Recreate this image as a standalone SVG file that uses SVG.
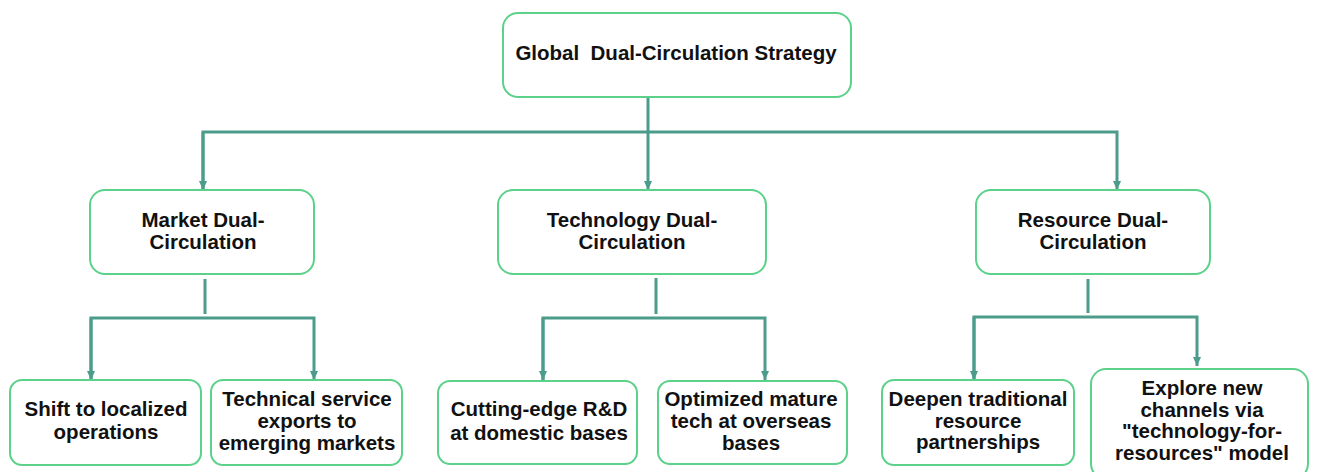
<svg xmlns="http://www.w3.org/2000/svg" width="1317" height="472" viewBox="0 0 1317 472">
<style>
.box{fill:#fff;stroke:#5cd18a;stroke-width:2}
.t{font-family:"Liberation Sans",Arial,sans-serif;font-weight:bold;font-size:20.5px;fill:#111;text-anchor:middle}
.c{fill:none;stroke:#4c9c8c;stroke-width:3}
</style>
<defs>
<marker id="ah" markerUnits="userSpaceOnUse" markerWidth="10" markerHeight="10" refX="9" refY="5" orient="auto">
<path d="M0,1 L9,5 L0,9 z" fill="#4c9c8c"/>
</marker>
</defs>
<rect width="1317" height="472" fill="#fff"/>
<g id="connectors">
<line class="c" x1="648" y1="97" x2="648" y2="190" marker-end="url(#ah)"/>
<polyline class="c" points="203,190 203,132 1117,132 1117,190" marker-end="url(#ah)"/>
<path class="c" d="M203,132 L203,190" marker-end="url(#ah)"/>
<line class="c" x1="205" y1="279" x2="205" y2="314"/>
<polyline class="c" points="91,380 91,318 314,318 314,380" marker-end="url(#ah)"/>
<path class="c" d="M91,318 L91,380" marker-end="url(#ah)"/>
<line class="c" x1="656" y1="278" x2="656" y2="314"/>
<polyline class="c" points="543,380 543,318 765,318 765,380" marker-end="url(#ah)"/>
<path class="c" d="M543,318 L543,380" marker-end="url(#ah)"/>
<line class="c" x1="1088" y1="279" x2="1088" y2="313"/>
<polyline class="c" points="974,380 974,317 1197,317 1197,366" marker-end="url(#ah)"/>
<path class="c" d="M974,317 L974,380" marker-end="url(#ah)"/>
</g>
<g id="root">
<rect class="box" x="503" y="13" width="348" height="84" rx="15"/>
<text class="t" x="676" y="60" xml:space="preserve">Global  Dual-Circulation Strategy</text>
</g>
<g id="market">
<rect class="box" x="90" y="190" width="224" height="84" rx="15"/>
<text class="t" x="203" y="227">Market Dual-</text>
<text class="t" x="203" y="249">Circulation</text>
</g>
<g id="technology">
<rect class="box" x="498" y="190" width="268" height="84" rx="15"/>
<text class="t" x="632" y="227">Technology Dual-</text>
<text class="t" x="632" y="249">Circulation</text>
</g>
<g id="resource">
<rect class="box" x="976" y="190" width="234" height="84" rx="15"/>
<text class="t" x="1093" y="227">Resource Dual-</text>
<text class="t" x="1093" y="249">Circulation</text>
</g>
<g id="shift">
<rect class="box" x="10" y="380" width="191" height="85" rx="12"/>
<text class="t" x="106" y="416">Shift to localized</text>
<text class="t" x="106" y="439">operations</text>
</g>
<g id="techservice">
<rect class="box" x="211" y="380" width="191" height="85" rx="12"/>
<text class="t" x="307" y="406">Technical service</text>
<text class="t" x="307" y="428">exports to</text>
<text class="t" x="307" y="450">emerging markets</text>
</g>
<g id="cutting">
<rect class="box" x="438" y="381" width="199" height="83" rx="12"/>
<text class="t" x="539" y="416">Cutting-edge R&amp;D</text>
<text class="t" x="539" y="440">at domestic bases</text>
</g>
<g id="optimized">
<rect class="box" x="658" y="381" width="189" height="83" rx="12"/>
<text class="t" x="751" y="406">Optimized mature</text>
<text class="t" x="751" y="428">tech at overseas</text>
<text class="t" x="751" y="450">bases</text>
</g>
<g id="deepen">
<rect class="box" x="882" y="380" width="192" height="85" rx="12"/>
<text class="t" x="978" y="406">Deepen traditional</text>
<text class="t" x="978" y="428">resource</text>
<text class="t" x="978" y="449">partnerships</text>
</g>
<g id="explore">
<rect class="box" x="1091" y="369" width="217" height="110" rx="15"/>
<text class="t" x="1202" y="395">Explore new</text>
<text class="t" x="1202" y="417">channels via</text>
<text class="t" x="1202" y="438">"technology-for-</text>
<text class="t" x="1202" y="460">resources" model</text>
</g>
</svg>
